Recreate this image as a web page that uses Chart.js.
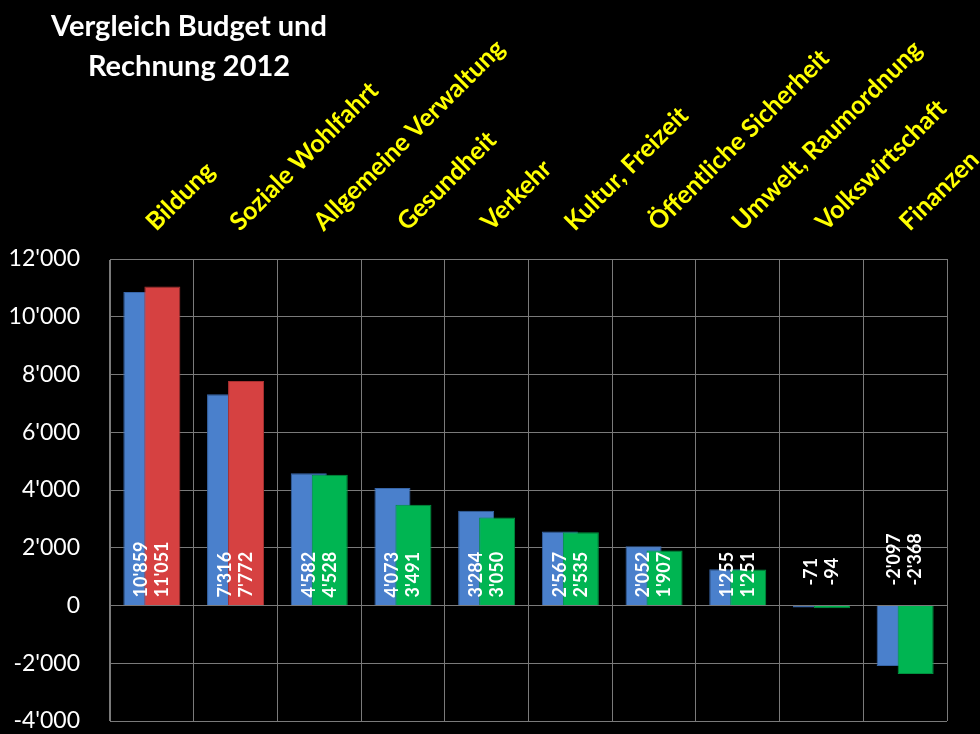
<!DOCTYPE html>
<html>
<head>
<meta charset="utf-8">
<script src="https://cdn.jsdelivr.net/npm/chart.js@4"></script>
<style>
  html, body { margin: 0; padding: 0; background: #000; }
  #wrap { position: relative; width: 980px; height: 734px; }
  #title {
    position: absolute; left: 39px; top: 5px; width: 300px;
    color: #fff; font: bold 29px Lato, sans-serif; line-height: 40px; text-align: center;
  }
</style>
</head>
<body>
<div id="wrap">
  <canvas id="chart" width="980" height="734"></canvas>
  <div id="title">Vergleich Budget und<br>Rechnung 2012</div>
</div>
<script>
// Kategorien und Werte (in 1'000 CHF)
const categories = [
  "Bildung", "Soziale Wohlfahrt", "Allgemeine Verwaltung", "Gesundheit", "Verkehr",
  "Kultur, Freizeit", "Öffentliche Sicherheit", "Umwelt, Raumordnung", "Volkswirtschaft", "Finanzen"
];
const budget = [10859, 7316, 4582, 4073, 3284, 2567, 2052, 1255, -71, -2097];
const rechnung = [11051, 7772, 4528, 3491, 3050, 2535, 1907, 1251, -94, -2368];
const yMin = -4000;
const yMax = 12000;
const yStep = 2000;

// Tausendertrennzeichen mit Apostroph
function fmt(v) {
  const s = Math.abs(v).toString().replace(/\B(?=(\d{3})+(?!\d))/g, "'");
  return (v < 0 ? "-" : "") + s;
}

// Rechnung über Budget zeichnen + Werte beschriften
const overlayPlugin = {
  id: "overlay",
  beforeDatasetDraw(chart, args) {
    if (args.index === 1 && !chart.$late) return false;
  },
  afterDatasetsDraw(chart) {
    chart.$late = true;
    chart.getDatasetMeta(1).controller.draw();
    chart.$late = false;

    const ctx = chart.ctx;
    const zero = chart.scales.y.getPixelForValue(0);
    ctx.save();
    ctx.fillStyle = "#fff";
    ctx.font = "bold 18px Lato, sans-serif";
    ctx.textAlign = "left";
    ctx.textBaseline = "middle";
    chart.data.datasets.forEach((ds, di) => {
      chart.getDatasetMeta(di).data.forEach((bar, i) => {
        const v = ds.data[i];
        ctx.save();
        ctx.translate(bar.x, zero - (v < 0 ? 20 : 8));
        ctx.rotate(-Math.PI / 2);
        ctx.fillText(fmt(v), 0, 0);
        ctx.restore();
      });
    });
    ctx.restore();
  }
};

new Chart(document.getElementById("chart"), {
  type: "bar",
  data: {
    labels: categories,
    datasets: [
      {
        label: "Budget",
        data: budget,
        backgroundColor: "#4a80cc",
        borderColor: "#3765a8",
        borderWidth: 1,
      },
      {
        label: "Rechnung",
        data: rechnung,
        backgroundColor: (c) => rechnung[c.dataIndex] > budget[c.dataIndex] ? "#d64141" : "#00b552",
        borderColor: (c) => rechnung[c.dataIndex] > budget[c.dataIndex] ? "#a83030" : "#00913f",
        borderWidth: 1,
      },
    ],
  },
  options: {
    responsive: false,
    animation: false,
    devicePixelRatio: 1,
    datasets: {
      bar: { categoryPercentage: 0.502, barPercentage: 1.714 },
    },
    layout: { padding: { top: 0, right: 33, bottom: 13, left: 0 } },
    scales: {
      x: {
        position: "top",
        grid: { color: "#7a7a7a", lineWidth: 1, drawTicks: false, offset: true },
        border: { color: "#7a7a7a" },
        ticks: {
          color: "#ffff00",
          font: { family: "Lato", size: 25, weight: "bold" },
          minRotation: 45,
          maxRotation: 45,
          autoSkip: false,
          padding: 22,
          labelOffset: 20,
        },
        afterFit(s) {
          s.height = 259;
          s.paddingLeft = 0;
          s.paddingRight = 0;
        },
      },
      y: {
        min: yMin,
        max: yMax,
        grid: { color: "#7a7a7a", lineWidth: 1, drawTicks: false },
        border: { color: "#7a7a7a" },
        ticks: {
          stepSize: yStep,
          color: "#fff",
          font: { family: "Lato", size: 23 },
          padding: 30,
          callback: (v) => fmt(v),
        },
        afterFit(s) {
          s.width = 110;
          s.paddingTop = 0;
          s.paddingBottom = 0;
        },
      },
    },
    plugins: {
      legend: { display: false },
      title: { display: false },
      tooltip: { enabled: false },
    },
  },
  plugins: [overlayPlugin],
});
</script>
</body>
</html>
